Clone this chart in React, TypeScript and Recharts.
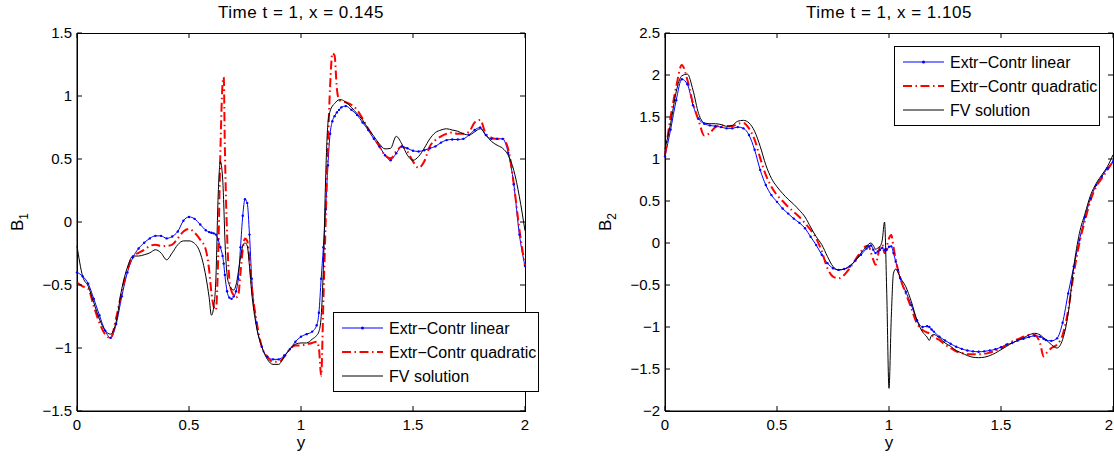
import { LineChart, Line, XAxis, YAxis, Legend } from "recharts";

// y positions (left panel, x = 0.145)
const gridLeft = [
  0, 0.025, 0.05, 0.075, 0.1, 0.125, 0.15, 0.175, 0.2, 0.225, 0.25, 0.275, 0.3, 0.325, 0.35, 0.375, 0.4, 0.425, 0.45, 0.475, 0.5, 0.525, 0.55, 0.575,
  0.59, 0.6, 0.61, 0.62, 0.63, 0.64, 0.65, 0.655, 0.66, 0.67, 0.68, 0.69, 0.7, 0.71, 0.72, 0.73, 0.74, 0.75, 0.76, 0.77, 0.78,
  0.8, 0.825, 0.85, 0.875, 0.9, 0.925, 0.95, 0.975, 1, 1.025, 1.05,
  1.07, 1.08, 1.09, 1.1, 1.11, 1.12, 1.13, 1.14, 1.15, 1.16, 1.17, 1.18,
  1.2, 1.225, 1.25, 1.275, 1.3, 1.325, 1.35, 1.375, 1.4, 1.425, 1.45, 1.475, 1.5, 1.525, 1.55, 1.575, 1.6, 1.625, 1.65, 1.675, 1.7, 1.725, 1.75, 1.775, 1.8, 1.825, 1.85, 1.875, 1.9, 1.925, 1.95, 1.975, 2,
];

const b1Linear = [
  -0.4, -0.43, -0.49, -0.61, -0.74, -0.86, -0.92, -0.81, -0.59, -0.4, -0.28, -0.21, -0.165, -0.13, -0.11, -0.11, -0.13, -0.115, -0.075, 0.01, 0.04, 0.025, -0.02, -0.065,
  -0.08, -0.085, -0.09, -0.1, -0.14, -0.2, -0.27, -0.33, -0.42, -0.55, -0.6, -0.61, -0.59, -0.55, -0.45, -0.2, 0.05, 0.18, 0.15, -0.1, -0.45,
  -0.8, -0.99, -1.07, -1.09, -1.09, -1.06, -1.01, -0.95, -0.91, -0.89, -0.87,
  -0.82, -0.72, -0.45, -0.2, 0.1, 0.45, 0.7, 0.8, 0.84, 0.87, 0.89, 0.91,
  0.92, 0.89, 0.85, 0.79, 0.73, 0.66, 0.6, 0.53, 0.49, 0.545, 0.6, 0.585, 0.565, 0.56, 0.57, 0.585, 0.6, 0.63, 0.65, 0.655, 0.655, 0.66, 0.69, 0.73, 0.75, 0.69, 0.66, 0.66, 0.66, 0.55, 0.3, -0.1, -0.35,
];

const b1Quadratic = [
  -0.48, -0.51, -0.53, -0.67, -0.8, -0.89, -0.92, -0.76, -0.55, -0.38, -0.27, -0.245, -0.22, -0.19, -0.18, -0.19, -0.19, -0.18, -0.13, -0.075, -0.055, -0.085, -0.14, -0.22,
  -0.38, -0.56, -0.67, -0.7, -0.3, 0.55, 1.1, 1.15, 0.6, -0.1, -0.45, -0.55, -0.58, -0.6, -0.58, -0.4, -0.22, -0.13, -0.15, -0.3, -0.51,
  -0.77, -0.99, -1.07, -1.11, -1.11, -1.07, -1.01, -0.98, -0.98, -0.97, -0.96,
  -0.95, -1.0, -1.22, -0.62, 0.0, 0.6, 1.08, 1.34, 1.32, 1.06, 0.97, 0.96,
  0.95, 0.93, 0.89, 0.82, 0.74, 0.67, 0.6, 0.53, 0.505, 0.56, 0.6, 0.56, 0.48, 0.43, 0.48, 0.6, 0.65, 0.68, 0.7, 0.71, 0.7, 0.7, 0.715, 0.79, 0.81, 0.7, 0.67, 0.66, 0.66, 0.58, 0.3, -0.06, -0.35,
];

const b1Fv = [
  -0.19, -0.43, -0.51, -0.64, -0.77, -0.86, -0.89, -0.79, -0.53, -0.36, -0.27, -0.27, -0.26, -0.245, -0.22, -0.245, -0.3, -0.245, -0.18, -0.15, -0.15, -0.17, -0.245, -0.43,
  -0.6, -0.74, -0.68, -0.45, 0.2, 0.48, 0.35, 0.15, -0.12, -0.42, -0.5, -0.53, -0.54, -0.5, -0.4, -0.28, -0.19, -0.165, -0.19, -0.35, -0.56,
  -0.82, -0.99, -1.09, -1.13, -1.13, -1.07, -1.01, -0.97, -0.96, -0.96, -0.93,
  -0.9, -0.87, -0.75, -0.35, 0.35, 0.78, 0.88, 0.92, 0.94, 0.96, 0.97, 0.97,
  0.95, 0.91, 0.86, 0.81, 0.74, 0.68, 0.62, 0.58, 0.585, 0.68, 0.62, 0.53, 0.49, 0.52, 0.585, 0.66, 0.71, 0.73, 0.74, 0.73, 0.72, 0.7, 0.69, 0.715, 0.74, 0.69, 0.64, 0.61, 0.585, 0.53, 0.41, 0.2, -0.07,
];

// y positions (right panel, x = 1.105)
const gridRight = [
  0, 0.025, 0.05, 0.075, 0.1, 0.125, 0.15, 0.175, 0.2, 0.225, 0.25, 0.275, 0.3, 0.325, 0.35, 0.375, 0.4, 0.425, 0.45, 0.475, 0.5, 0.525, 0.55, 0.575, 0.6, 0.625, 0.65, 0.675, 0.7, 0.725, 0.75, 0.775, 0.8, 0.825, 0.85, 0.875, 0.9,
  0.91, 0.92, 0.93, 0.94, 0.95, 0.96, 0.97, 0.98, 0.99, 1, 1.01, 1.02, 1.03, 1.04, 1.05,
  1.075, 1.1, 1.125, 1.15, 1.17, 1.18, 1.19,
  1.2, 1.225, 1.25, 1.275, 1.3, 1.325, 1.35, 1.375, 1.4, 1.425, 1.45, 1.475, 1.5, 1.525, 1.55, 1.575, 1.6, 1.625, 1.65, 1.675,
  1.69, 1.7, 1.725, 1.75, 1.775, 1.8, 1.825, 1.85, 1.875, 1.9, 1.925, 1.95, 1.975, 2,
];

const b2Linear = [
  1.03, 1.35, 1.7, 1.95, 1.89, 1.64, 1.48, 1.42, 1.4, 1.39, 1.38, 1.365, 1.365, 1.38, 1.365, 1.285, 1.11, 0.87, 0.69, 0.57, 0.49, 0.41, 0.35, 0.29, 0.24, 0.175, 0.075, -0.025, -0.14, -0.24, -0.3, -0.32, -0.31, -0.28, -0.21, -0.14, -0.065,
  -0.04, -0.03, -0.08, -0.12, -0.1, -0.08, -0.06, -0.08, -0.08, -0.045, -0.04, -0.12, -0.22, -0.32, -0.42,
  -0.58, -0.74, -0.92, -1.0, -0.99, -1.0, -1.03,
  -1.055, -1.115, -1.16, -1.2, -1.235, -1.26, -1.28, -1.29, -1.295, -1.29, -1.28, -1.265, -1.24, -1.21, -1.19, -1.16, -1.14, -1.12, -1.105, -1.115,
  -1.14, -1.155, -1.165, -1.135, -0.95, -0.6, -0.28, 0.035, 0.31, 0.53, 0.69, 0.79, 0.89, 0.97,
];

const b2Quadratic = [
  1.05, 1.5, 1.86, 2.12, 1.94, 1.66, 1.46, 1.28, 1.31, 1.38, 1.4, 1.39, 1.39, 1.42, 1.43, 1.365, 1.23, 1.01, 0.81, 0.67, 0.57, 0.5, 0.43, 0.37, 0.31, 0.235, 0.155, 0.055, -0.1, -0.3, -0.4, -0.42, -0.38, -0.3, -0.2, -0.1, -0.035,
  -0.04, -0.12, -0.2, -0.26, -0.16, -0.04, -0.02, -0.12, -0.04, 0.055, 0.095, -0.045, -0.2, -0.32, -0.42,
  -0.6, -0.78, -0.96, -1.035, -1.065, -1.075, -1.095,
  -1.115, -1.155, -1.21, -1.25, -1.29, -1.31, -1.325, -1.325, -1.325, -1.32, -1.305, -1.28, -1.255, -1.21, -1.17, -1.145, -1.115, -1.095, -1.095, -1.2,
  -1.35, -1.32, -1.25, -1.21, -1.095, -0.8, -0.36, 0.0, 0.27, 0.51, 0.67, 0.77, 0.87, 0.97,
];

const b2Fv = [
  1.12, 1.42, 1.8, 1.99, 2.01, 1.82, 1.54, 1.43, 1.42, 1.42, 1.41, 1.39, 1.4, 1.45, 1.46, 1.43, 1.33, 1.15, 0.93, 0.77, 0.67, 0.59, 0.52, 0.46, 0.39, 0.31, 0.19, 0.075, -0.02, -0.16, -0.28, -0.32, -0.31, -0.27, -0.21, -0.12, -0.04,
  -0.01, 0.0, -0.03, -0.075, -0.06, -0.04, 0.035, 0.25, -0.6, -1.73, -0.9, -0.36, -0.31, -0.35, -0.41,
  -0.52, -0.7, -0.92, -1.06, -1.12, -1.16, -1.1,
  -1.09, -1.13, -1.19, -1.23, -1.28, -1.31, -1.34, -1.36, -1.365, -1.36, -1.34, -1.31, -1.27, -1.23, -1.19, -1.16, -1.13, -1.095, -1.075, -1.095,
  -1.13, -1.15, -1.21, -1.25, -1.15, -0.84, -0.28, 0.115, 0.35, 0.57, 0.71, 0.81, 0.91, 1.05,
];

const xTicks = [0, 0.5, 1, 1.5, 2];
const b1Ticks = [-1.5, -1, -0.5, 0, 0.5, 1, 1.5];
const b2Ticks = [-2, -1.5, -1, -0.5, 0, 0.5, 1, 1.5, 2, 2.5];

const FONT = "'Liberation Sans', Arial, Helvetica, sans-serif";
const PLOT_TOP = 33;
const PLOT_BOTTOM = 411;

const series = [
  { key: "linear", name: "Extr\u2212Contr linear", color: "#0000ff", width: 1, dash: undefined as string | undefined, dot: true },
  { key: "quadratic", name: "Extr\u2212Contr quadratic", color: "#ff0000", width: 2, dash: "9 3.5 1.5 3.5", dot: false },
  { key: "fv", name: "FV solution", color: "#000000", width: 1, dash: undefined as string | undefined, dot: false },
];

const fmt = (v: number) => String(v).replace("-", "\u2212");

// matlab style: ticks point inward on all four sides; the bottom/left tick also draws its top/right twin
const makeBottomTick = (maxX: number) => ({ x, payload }: any) => (
  <g>
    <path d={`M${x},${PLOT_BOTTOM}v-5M${x},${PLOT_TOP}v5`} stroke="#000" strokeWidth={1} fill="none" />
    <text x={Math.min(x, maxX)} y={PLOT_BOTTOM + 19} textAnchor="middle" fontSize={15} fontFamily={FONT} fill="#000">
      {fmt(payload.value)}
    </text>
  </g>
);

const makeLeftTick = (leftX: number, rightX: number) => ({ y, payload }: any) => (
  <g>
    <path d={`M${leftX},${y}h5M${rightX},${y}h-5`} stroke="#000" strokeWidth={1} fill="none" />
    <text x={leftX - 5} y={y} dy="0.36em" textAnchor="end" fontSize={15} fontFamily={FONT} fill="#000">
      {fmt(payload.value)}
    </text>
  </g>
);

const LegendBox = () => (
  <div style={{ width: 206, height: 80, border: "1px solid #000", background: "#fff", boxSizing: "border-box" }}>
    <svg width={204} height={78} style={{ display: "block" }}>
      {series.map((s, i) => {
        const cy = 15 + 24 * i;
        return (
          <g key={s.key}>
            <line x1={8} x2={49} y1={cy} y2={cy} stroke={s.color} strokeWidth={s.width} strokeDasharray={s.dash} />
            {s.dot && <circle cx={28.5} cy={cy} r={1.5} fill={s.color} />}
            <text x={55} y={cy} dy="0.36em" fontSize={16} fontFamily={FONT} fill="#000">
              {s.name}
            </text>
          </g>
        );
      })}
    </svg>
  </div>
);

type PanelProps = {
  title: string;
  sub: string;
  grid: number[];
  linear: number[];
  quadratic: number[];
  fv: number[];
  yTicks: number[];
  width: number;
  left: number;
  axisWidth: number;
  marginRight: number;
  legendLeft: number;
  legendTop: number;
};

const Panel = (p: PanelProps) => {
  const data = p.grid.map((y, i) => ({
    y,
    linear: p.linear[i],
    quadratic: p.quadratic[i],
    fv: p.fv[i],
  }));
  const yMin = p.yTicks[0];
  const yMax = p.yTicks[p.yTicks.length - 1];
  const plotLeft = p.axisWidth;
  const plotRight = p.width - p.marginRight;
  const cx = (plotLeft + plotRight) / 2;
  const labelX = p.axisWidth - 54;

  return (
    <div style={{ position: "absolute", left: p.left, top: 0, width: p.width, height: 456 }}>
      {/* axes box (top and right edges) */}
      <div
        style={{
          position: "absolute",
          left: plotLeft,
          top: PLOT_TOP,
          width: plotRight - plotLeft + 1,
          height: PLOT_BOTTOM - PLOT_TOP + 1,
          border: "1px solid #000",
          boxSizing: "border-box",
          pointerEvents: "none",
        }}
      />
      <LineChart
        width={p.width}
        height={456}
        data={data}
        margin={{ top: PLOT_TOP, right: p.marginRight, bottom: 0, left: 0 }}
      >
        <XAxis
          dataKey="y"
          type="number"
          domain={[0, 2]}
          ticks={xTicks}
          interval={0}
          height={456 - PLOT_BOTTOM}
          tickSize={0}
          tickMargin={0}
          tick={makeBottomTick(p.width - 5)}
          axisLine={{ stroke: "#000" }}
        />
        <YAxis
          type="number"
          domain={[yMin, yMax]}
          ticks={p.yTicks}
          interval={0}
          width={p.axisWidth}
          tickSize={0}
          tickMargin={0}
          tick={makeLeftTick(plotLeft, plotRight)}
          axisLine={{ stroke: "#000" }}
        />
        {series.map((s) => (
          <Line
            key={s.key}
            dataKey={s.key}
            name={s.name}
            type="monotone"
            stroke={s.color}
            strokeWidth={s.width}
            strokeDasharray={s.dash}
            dot={s.dot ? { r: 1.2, fill: s.color, stroke: "none", strokeWidth: 0 } : false}
            activeDot={false}
            isAnimationActive={false}
          />
        ))}
        <Legend
          layout="vertical"
          align="center"
          verticalAlign="middle"
          content={LegendBox}
          wrapperStyle={{ left: p.legendLeft, top: p.legendTop, width: 206, height: 80 }}
        />
        <text x={cx} y={18} textAnchor="middle" fontSize={17} letterSpacing={0.5} fontFamily={FONT} fill="#000">
          {p.title}
        </text>
        <text x={cx} y={448} textAnchor="middle" fontSize={17} fontFamily={FONT} fill="#000">
          y
        </text>
        <text
          x={labelX}
          y={222}
          transform={`rotate(-90, ${labelX}, 222)`}
          textAnchor="middle"
          fontSize={17}
          fontFamily={FONT}
          fill="#000"
        >
          B
          <tspan dy={5} fontSize={12}>
            {p.sub}
          </tspan>
        </text>
      </LineChart>
    </div>
  );
};

export default function App() {
  return (
    <div style={{ position: "absolute", left: 0, top: 0, width: 1114, height: 456, background: "#fff", overflow: "hidden" }}>
      <Panel
        title="Time t = 1, x = 0.145"
        sub="1"
        grid={gridLeft}
        linear={b1Linear}
        quadratic={b1Quadratic}
        fv={b1Fv}
        yTicks={b1Ticks}
        width={560}
        left={0}
        axisWidth={77}
        marginRight={35}
        legendLeft={333}
        legendTop={312}
      />
      <Panel
        title="Time t = 1, x = 1.105"
        sub="2"
        grid={gridRight}
        linear={b2Linear}
        quadratic={b2Quadratic}
        fv={b2Fv}
        yTicks={b2Ticks}
        width={554}
        left={560}
        axisWidth={105}
        marginRight={1}
        legendLeft={334}
        legendTop={46}
      />
    </div>
  );
}
